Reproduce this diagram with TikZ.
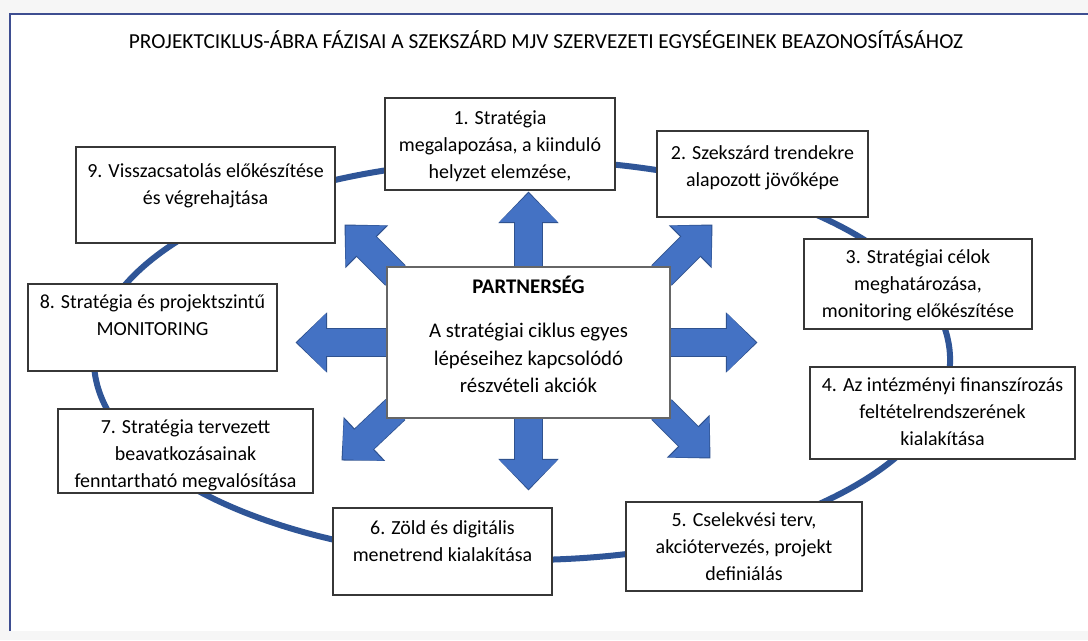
\documentclass[tikz,border=0pt]{standalone}
\usepackage{fontspec}
\setmainfont{Carlito}
\usetikzlibrary{arrows.meta,positioning,calc,backgrounds}

\definecolor{ringblue}{RGB}{47,85,151}
\definecolor{arrowblue}{RGB}{68,114,196}
\definecolor{arrowedge}{RGB}{47,82,143}
\definecolor{frameblue}{RGB}{62,78,145}
\definecolor{boxline}{RGB}{55,55,55}

\newdimen\pxu \pxu=0.025cm
% top-aligned text inside a fixed box: [first baseline]{width}{height}{text}
\newcommand{\phasetext}[4][0.62cm]{\parbox[c][#3\pxu][t]{#2\pxu}{\centering\rule{0pt}{#1}#4}}

\begin{document}
\begin{tikzpicture}[x=0.025cm, y=0.025cm,
  phase/.style={draw=boxline, line width=0.8pt, fill=white, inner sep=0pt,
    font=\fontsize{14.2}{19}\selectfont},
  hub/.style={draw=black!60, line width=0.8pt, fill=white, inner sep=0pt,
    font=\fontsize{14.8}{19.6}\selectfont},
  ring/.style={draw=ringblue, line width=0.15cm},
  blk/.style={draw=arrowblue, line width=0.68cm,
    -{Triangle[width=1.4cm,length=0.72cm]}, shorten >=0.04cm,
    preaction={draw=arrowedge, line width=0.72cm,
      -{Triangle[width=1.46cm,length=0.79cm]}, shorten >=0cm}},
]
\useasboundingbox (0,0) rectangle (1088,640);

\node[font=\fontsize{15.2}{17}\selectfont] (title) at (546,600)
  {PROJEKTCIKLUS-ÁBRA FÁZISAI A SZEKSZÁRD MJV SZERVEZETI EGYSÉGEINEK BEAZONOSÍTÁSÁHOZ};

\node[hub] (part) at (528.5,297.5) {\phasetext[0.66cm]{283}{151}{\textbf{PARTNERSÉG}\\[0.42cm]
  A stratégiai ciklus egyes\\lépéseihez kapcsolódó\\részvételi akciók}};

\node[phase] (s1) at (500,496) {\phasetext[0.67cm]{230}{92}{1. Stratégia\\megalapozása, a kiinduló\\helyzet elemzése,}};
\node[phase] (s2) at (762.5,466) {\phasetext[0.72cm]{211}{86}{2. Szekszárd trendekre\\alapozott jövőképe}};
\node[phase] (s3) at (918,356) {\phasetext{228}{90}{3. Stratégiai célok\\meghatározása,\\monitoring előkészítése}};
\node[phase] (s4) at (942.5,227) {\phasetext{265}{92}{4. Az intézményi finanszírozás\\feltételrendszerének\\kialakítása}};
\node[phase] (s5) at (744,93.5) {\phasetext{236}{89}{5. Cselekvési terv,\\akciótervezés, projekt\\definiálás}};
\node[phase] (s6) at (442.5,88.5) {\phasetext[0.66cm]{219}{87}{6. Zöld és digitális\\menetrend kialakítása}};
\node[phase] (s7) at (185.5,189) {\phasetext{255}{84}{7. Stratégia tervezett\\beavatkozásainak\\fenntartható megvalósítása}};
\node[phase] (s8) at (152.5,312.5) {\phasetext{249}{87}{8. Stratégia és projektszintű\\MONITORING}};
\node[phase] (s9) at (205.5,445) {\phasetext[0.76cm]{259}{96}{9. Visszacsatolás előkészítése\\és végrehajtása}};

\begin{scope}[on background layer]
  \fill[gray!7] (0,0) rectangle (1088,640);
  \fill[white] (10,9) rectangle (1088,626);
  \draw[frameblue, line width=0.055cm] (10,9) -- (10,626) -- (1088,626);
  \draw[ring] (522,280) ellipse [x radius=10.7cm, y radius=5cm];
  % partnership arrows
  \draw[blk] (part.north) -- ++(0,75);
  \draw[blk] (part.south) -- ++(0,-72);
  \draw[blk] (part.east) -- ++(87,0);
  \draw[blk] (part.west) -- ++(-91,0);
  \draw[blk] ($(part.north east)+(-9,-9)$) -- ++(51,51);
  \draw[blk] ($(part.north west)+(9,-9)$) -- ++(-51,51);
  \draw[blk] ($(part.south east)+(-9,9)$) -- ++(49,-49);
  \draw[blk] ($(part.south west)+(9,9)$) -- ++(-54,-51);
\end{scope}
\end{tikzpicture}
\end{document}
